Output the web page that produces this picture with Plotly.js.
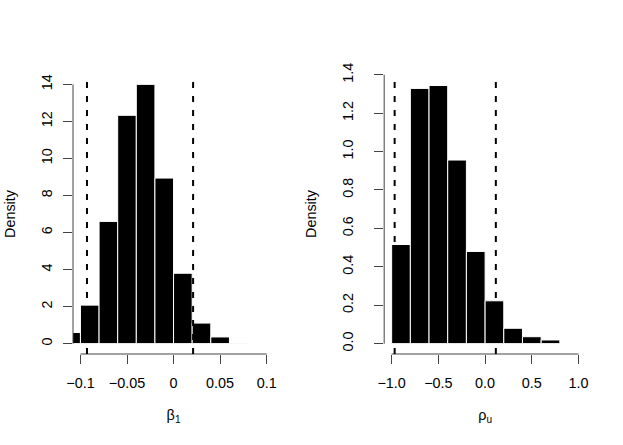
<!DOCTYPE html>
<html>
<head>
<meta charset="utf-8">
<script src="https://cdn.plot.ly/plotly-3.0.1.min.js"></script>
<style>
  html, body { margin: 0; padding: 0; background: #fff; }
  #chart { width: 623px; height: 445px; }
</style>
</head>
<body>
<div id="chart"></div>
<script>
// histogram bins (edges) and densities
const beta1Edges = [-0.12, -0.10, -0.08, -0.06, -0.04, -0.02, 0, 0.02, 0.04, 0.06, 0.08];
const beta1Density = [0.6, 2.08, 6.6, 12.33, 14.0, 8.94, 3.8, 1.11, 0.36, 0.03];
const beta1Interval = [-0.093, 0.021];

const rhoEdges = [-1.0, -0.8, -0.6, -0.4, -0.2, 0, 0.2, 0.4, 0.6, 0.8];
const rhoDensity = [0.516, 1.329, 1.344, 0.956, 0.48, 0.223, 0.08, 0.036, 0.019];
const rhoInterval = [-0.968, 0.115];

const beta1Ticks = [-0.1, -0.05, 0, 0.05, 0.1];
const beta1TickText = ['\u22120.1', '\u22120.05', '0', '0.05', '0.1'];
const rhoTicks = [-1, -0.5, 0, 0.5, 1];
const rhoTickText = ['\u22121.0', '\u22120.5', '0.0', '0.5', '1.0'];
const densTicks1 = [0, 2, 4, 6, 8, 10, 12, 14];
const densTicks2 = [0, 0.2, 0.4, 0.6, 0.8, 1.0, 1.2, 1.4];
const densText2 = ['0.0', '0.2', '0.4', '0.6', '0.8', '1.0', '1.2', '1.4'];

const FONT = 'Liberation Sans, Arial, Helvetica, sans-serif';
const domain1 = [0, 0.392];
const domain2 = [0.6066, 1];

function histTrace(edges, dens, xa, ya) {
    const centers = [], widths = [];
    for (let i = 0; i < dens.length; i++) {
        centers.push((edges[i] + edges[i + 1]) / 2);
        widths.push(edges[i + 1] - edges[i]);
    }
    return {
        type: 'bar', x: centers, y: dens, width: widths,
        xaxis: xa, yaxis: ya,
        marker: { color: '#000', line: { color: '#fff', width: 1 } },
        hoverinfo: 'x+y', showlegend: false
    };
}

function xAxis(domain, range, vals, text, title, anchor) {
    return {
        domain: domain, range: range, anchor: anchor, fixedrange: true,
        showgrid: false, zeroline: false, showline: false,
        ticks: 'outside', ticklen: 9, tickwidth: 1, tickcolor: '#444',
        tickvals: vals, ticktext: text, ticklabelstandoff: 7,
        tickfont: { family: FONT, size: 14.4, color: '#000' },
        title: { text: title, standoff: 19, font: { family: FONT, size: 14.4, color: '#000' } }
    };
}

function yAxis(anchor, range, vals, text, standoff) {
    return {
        anchor: anchor, range: range, fixedrange: true,
        showgrid: false, zeroline: false, showline: false,
        ticks: 'outside', ticklen: 9, tickwidth: 1, tickcolor: '#444',
        tickvals: vals, ticktext: text, tickangle: -90, ticklabelstandoff: standoff,
        tickfont: { family: FONT, size: 14.4, color: '#000' },
        title: { text: 'Density', standoff: 20, font: { family: FONT, size: 14.4, color: '#000' } }
    };
}

// R-style axis lines that only span the tick range
function axisShapes(xa, ya, domain, xTicks, yTicks) {
    const line = { color: '#444', width: 1 };
    return [
        { type: 'line', xref: xa, yref: 'paper', x0: xTicks[0], x1: xTicks[xTicks.length - 1], y0: 0, y1: 0, line: line },
        { type: 'line', xref: 'paper', yref: ya, x0: domain[0], x1: domain[0], y0: yTicks[0], y1: yTicks[yTicks.length - 1], line: line }
    ];
}

// dashed interval lines
function dashShapes(xa, ya, vals) {
    return vals.map(v => ({
        type: 'line', xref: xa, yref: ya + ' domain', x0: v, x1: v, y0: 0, y1: 1,
        line: { color: '#000', width: 2, dash: '6px,8px' }
    }));
}

const data = [
    histTrace(beta1Edges, beta1Density, 'x', 'y'),
    histTrace(rhoEdges, rhoDensity, 'x2', 'y2')
];

const layout = {
    width: 623, height: 445,
    margin: { l: 73, r: 37.3, t: 73.5, b: 91 },
    paper_bgcolor: '#fff', plot_bgcolor: '#fff',
    font: { family: FONT, size: 14.4, color: '#000' },
    bargap: 0,
    xaxis: xAxis(domain1, [-0.108, 0.108], beta1Ticks, beta1TickText, '\u03b2<sub>1</sub>', 'y'),
    yaxis: yAxis('x', [-0.56, 14.56], densTicks1, densTicks1.map(String), 5),
    xaxis2: xAxis(domain2, [-1.08, 1.08], rhoTicks, rhoTickText, '\u03c1<sub>u</sub>', 'y2'),
    yaxis2: yAxis('x2', [-0.054, 1.404], densTicks2, densText2, 15),
    shapes: [].concat(
        axisShapes('x', 'y', domain1, beta1Ticks, densTicks1),
        axisShapes('x2', 'y2', domain2, rhoTicks, densTicks2),
        dashShapes('x', 'y', beta1Interval),
        dashShapes('x2', 'y2', rhoInterval)
    )
};

Plotly.newPlot('chart', data, layout, { displayModeBar: false, staticPlot: true });
</script>
</body>
</html>
